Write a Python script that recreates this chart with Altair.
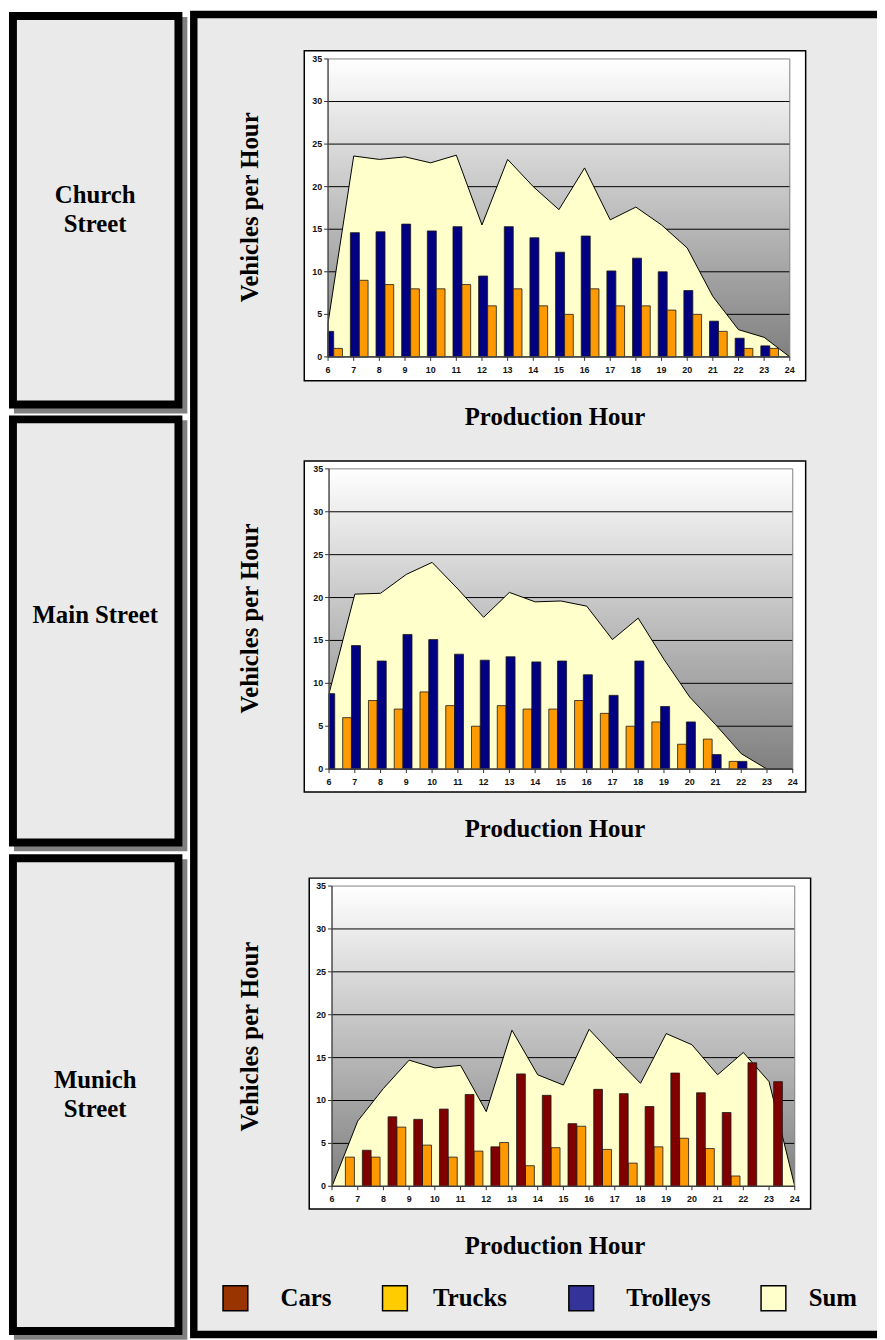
import altair as alt
import pandas as pd

# ---------------- data ----------------
HOURS = list(range(6, 25))
Y_TICKS = [0, 5, 10, 15, 20, 25, 30, 35]
GRID_TICKS = [5, 10, 15, 20, 25, 30]

STREETS = [["Church", "Street"], ["Main Street"], ["Munich", "Street"]]
X_TITLE = "Production Hour"
Y_TITLE = "Vehicles per Hour"
LEGEND_LABELS = ["Cars", "Trucks", "Trolleys", "Sum"]

church_trolleys = [3.0, 14.6, 14.7, 15.6, 14.8, 15.3, 9.5, 15.3, 14.0, 12.3, 14.2, 10.1, 11.6, 10.0, 7.8, 4.2, 2.2, 1.3, 0]
church_trucks = [1.0, 9.0, 8.5, 8.0, 8.0, 8.5, 6.0, 8.0, 6.0, 5.0, 8.0, 6.0, 6.0, 5.5, 5.0, 3.0, 1.0, 1.0, 0]
church_sum = [4.0, 23.6, 23.2, 23.5, 22.8, 23.7, 15.5, 23.2, 20.0, 17.3, 22.2, 16.1, 17.6, 15.5, 12.8, 7.1, 3.2, 2.3, 0]

main_trolleys = [8.8, 14.4, 12.6, 15.7, 15.1, 13.4, 12.7, 13.1, 12.5, 12.6, 11.0, 8.6, 12.6, 7.3, 5.5, 1.7, 0.9, 0, 0]
main_trucks = [0, 6.0, 8.0, 7.0, 9.0, 7.4, 5.0, 7.4, 7.0, 7.0, 8.0, 6.5, 5.0, 5.5, 2.9, 3.5, 0.9, 0, 0]
main_sum = [8.8, 20.4, 20.5, 22.7, 24.1, 21.0, 17.7, 20.6, 19.5, 19.6, 19.0, 15.1, 17.6, 12.8, 8.4, 5.2, 1.8, 0, 0]

munich_cars = [0, 4.2, 8.1, 7.8, 9.0, 10.7, 4.6, 13.1, 10.6, 7.3, 11.3, 10.8, 9.3, 13.2, 10.9, 8.6, 14.4, 12.2, 0]
munich_trucks = [0, 3.4, 3.4, 6.9, 4.8, 3.4, 4.1, 5.1, 2.4, 4.5, 7.0, 4.3, 2.7, 4.6, 5.6, 4.4, 1.2, 0, 0]
munich_sum = [0, 7.6, 11.4, 14.7, 13.8, 14.1, 8.7, 18.2, 13.0, 11.8, 18.3, 15.1, 12.0, 17.8, 16.5, 13.0, 15.6, 12.2, 0]

# ---------------- styles / layout ----------------
SERIF = "Liberation Serif"
SANS = "Liberation Sans"
BG = "#EAEAEA"
C_TROLLEY = "#000080"
C_TRUCK = "#FF9900"
C_CAR = "#800000"
C_SUM = "#FFFFCC"
LEGEND_COLORS = ["#993300", "#FFCC00", "#333399", "#FFFFCC"]

PANELS = [
    dict(left=323, right=789, top=45.3, bottom=346, frame=(299, 37, 805, 370), ytitle=195, xtitle=415,
         bars=[(church_trolleys, C_TROLLEY, -0.13, 0.22), (church_trucks, C_TRUCK, 0.22, 0.56)], sum=church_sum),
    dict(left=324, right=792, top=459, bottom=762, frame=(299, 451, 805, 785), ytitle=610, xtitle=830,
         bars=[(main_trucks, C_TRUCK, -0.47, -0.13), (main_trolleys, C_TROLLEY, -0.13, 0.22)], sum=main_sum),
    dict(left=327, right=794, top=880, bottom=1183, frame=(304, 872, 810, 1206), ytitle=1032, xtitle=1251,
         bars=[(munich_trucks, C_TRUCK, -0.48, -0.13), (munich_cars, C_CAR, 0.18, 0.52)], sum=munich_sum),
]

BOXES = [(5, 2, 172, 394), (5, 409, 172, 836), (5, 852, 172, 1329)]
# (y, baseline) for the street names
BOX_TEXT_POS = [(191, "alphabetic"), (607, "middle"), (1084, "alphabetic")]

one = pd.DataFrame({"k": [0]})
layers = []


def rect(x, y, x2, y2, **kw):
    return alt.Chart(one).mark_rect(**kw).encode(
        x=alt.value(x), x2=alt.value(x2), y=alt.value(y), y2=alt.value(y2))


def label(text, x, y, **kw):
    return alt.Chart(one).mark_text(**kw).encode(
        x=alt.value(x), y=alt.value(y), text=alt.value(text))


# left boxes with shadows
for (x, y, x2, y2) in BOXES:
    layers.append(rect(x + 1, y + 1, x2 + 9, y2 + 9, fill="#808080"))
for (x, y, x2, y2) in BOXES:
    layers.append(rect(x, y, x2, y2, fill=BG, stroke="black", strokeWidth=8))

# big right panel
layers.append(rect(187.5, 0.5, 900, 1332.5, fill=BG, stroke="black", strokeWidth=7.5))

grad = alt.Gradient(gradient="linear", x1=0, y1=0, x2=0, y2=1,
                    stops=[alt.GradientStop(color="#FFFFFF", offset=0),
                           alt.GradientStop(color="#808080", offset=1)])

for p in PANELS:
    xs = alt.Scale(domain=[6, 24], range=[p["left"], p["right"]], nice=False, zero=False)
    ys = alt.Scale(domain=[0, 35], range=[p["bottom"], p["top"]], nice=False, zero=False)
    fx, fy, fx2, fy2 = p["frame"]
    layers.append(rect(fx, fy, fx2, fy2, fill="white", stroke="black", strokeWidth=1.5))
    layers.append(rect(p["left"], p["top"], p["right"], p["bottom"], fill=grad))

    grid_df = pd.DataFrame({"v": GRID_TICKS})
    layers.append(alt.Chart(grid_df).mark_rule(color="#000000", strokeWidth=1).encode(
        x=alt.value(p["left"]), x2=alt.value(p["right"]),
        y=alt.Y("v:Q", scale=ys, axis=None)))

    sum_df = pd.DataFrame({"hour": HOURS, "total": p["sum"]})
    layers.append(alt.Chart(sum_df).mark_area(fill=C_SUM, stroke="black", strokeWidth=1).encode(
        x=alt.X("hour:Q", scale=xs, axis=None),
        y=alt.Y("total:Q", scale=ys, axis=None)))

    for vals, color, o0, o1 in p["bars"]:
        bdf = pd.DataFrame({"hour": HOURS, "value": vals})
        layers.append(
            alt.Chart(bdf).transform_filter("datum.value > 0").transform_calculate(
                x0=f"max(datum.hour + ({o0}), 6)", x1=f"datum.hour + ({o1})", zero="0"
            ).mark_rect(fill=color, stroke="#1a1a1a", strokeWidth=0.8).encode(
                x=alt.X("x0:Q", scale=xs, axis=None), x2="x1:Q",
                y=alt.Y("value:Q", scale=ys, axis=None), y2="zero:Q"))

    # plot border and axis lines
    layers.append(rect(p["left"], p["top"], p["right"], p["bottom"], stroke="#808080",
                       strokeWidth=1, fillOpacity=0))
    layers.append(alt.Chart(one).mark_rule(color="#333333", strokeWidth=1).encode(
        x=alt.value(p["left"]), y=alt.value(p["top"]), y2=alt.value(p["bottom"])))
    layers.append(alt.Chart(one).mark_rule(color="#333333", strokeWidth=1).encode(
        x=alt.value(p["left"]), x2=alt.value(p["right"]), y=alt.value(p["bottom"])))

    yt = pd.DataFrame({"v": Y_TICKS})
    xt = pd.DataFrame({"h": HOURS})
    layers.append(alt.Chart(yt).mark_rule(color="#333333", strokeWidth=1).encode(
        x=alt.value(p["left"] - 4), x2=alt.value(p["left"]),
        y=alt.Y("v:Q", scale=ys, axis=None)))
    layers.append(alt.Chart(xt).mark_rule(color="#333333", strokeWidth=1).encode(
        x=alt.X("h:Q", scale=xs, axis=None),
        y=alt.value(p["bottom"]), y2=alt.value(p["bottom"] + 4)))
    layers.append(alt.Chart(yt).mark_text(align="right", baseline="middle", font=SANS,
                                          fontWeight="bold", fontSize=9, color="#111111").encode(
        x=alt.value(p["left"] - 6), y=alt.Y("v:Q", scale=ys, axis=None), text="v:Q"))
    layers.append(alt.Chart(xt).mark_text(align="center", baseline="middle", font=SANS,
                                          fontWeight="bold", fontSize=9, color="#111111").encode(
        x=alt.X("h:Q", scale=xs, axis=None), y=alt.value(p["bottom"] + 13), text="h:Q"))

    layers.append(label(Y_TITLE, 244, p["ytitle"], angle=270, align="center", baseline="middle",
                        font=SERIF, fontWeight="bold", fontSize=25, color="black"))
    layers.append(label(X_TITLE, 552, p["xtitle"], align="center", baseline="alphabetic",
                        font=SERIF, fontWeight="bold", fontSize=25, color="black"))

# street names
for name, (y, bl) in zip(STREETS, BOX_TEXT_POS):
    layers.append(label(name if len(name) > 1 else name[0], 88, y, align="center", baseline=bl,
                        lineHeight=29, font=SERIF, fontWeight="bold", fontSize=25, color="black"))

# legend
LEG_SQ_X = [217, 378, 566, 760]
LEG_TX_X = [275, 429, 624, 808]
for lab, col, sx, tx in zip(LEGEND_LABELS, LEGEND_COLORS, LEG_SQ_X, LEG_TX_X):
    layers.append(rect(sx, 1283.5, sx + 25, 1308.5, fill=col, stroke="black", strokeWidth=1.5))
    layers.append(label(lab, tx, 1304, align="left", baseline="alphabetic",
                        font=SERIF, fontWeight="bold", fontSize=25, color="black"))

chart = alt.layer(*layers).resolve_scale(x="independent", y="independent").properties(
    width=877, height=1332, autosize=alt.AutoSizeParams(type="none"), padding=0, background="white"
).configure_view(strokeWidth=0)

chart.save("out.html", embed_options={"renderer": "svg", "actions": False})
